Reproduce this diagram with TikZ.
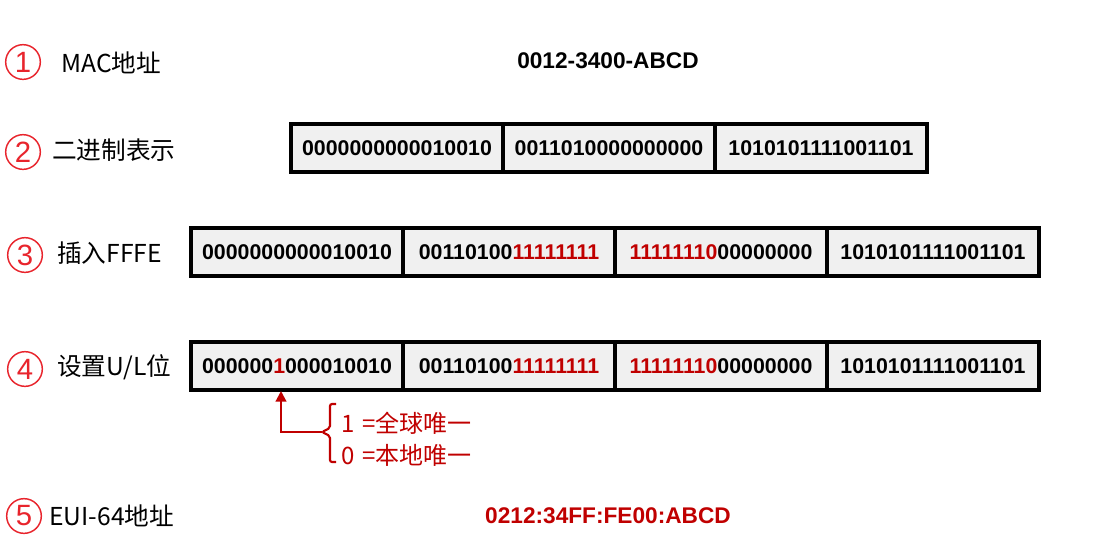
\documentclass[tikz,border=0pt]{standalone}
\usepackage{fontspec}
\setmainfont{Liberation Sans}
\newfontfamily\cjk{Noto Sans CJK SC}
\usetikzlibrary{arrows.meta}
\definecolor{cellgray}{RGB}{240,240,240}
\definecolor{bitred}{RGB}{192,0,0}
\definecolor{numred}{RGB}{232,36,44}
\newcommand{\rd}[1]{\textcolor{bitred}{#1}}
\tikzset{
  cell/.style={draw,line width=2.4pt,fill=cellgray,minimum width=159pt,
    minimum height=36pt,inner sep=0pt,font=\bfseries\fontsize{16}{19}\selectfont},
  stepnum/.style={circle,draw=numred,line width=1.1pt,text=numred,minimum size=26pt,
    inner sep=0pt,font=\fontsize{22}{22}\selectfont},
  steplabel/.style={anchor=west,inner sep=0pt,font=\cjk\fontsize{18.5}{20}\selectfont},
  addr/.style={inner sep=0pt,font=\bfseries\fontsize{17}{20}\selectfont},
  ulnote/.style={anchor=west,inner sep=0pt,text=bitred,font=\cjk\fontsize{18}{20}\selectfont}
}
\begin{document}
\begin{tikzpicture}[x=0.75pt,y=-0.75pt]
  \useasboundingbox (0,0) rectangle (1096,558);

  % step numbers and labels
  \node[stepnum] (n1) at (23,62) {1};
  \node[stepnum] (n2) at (23,152) {2};
  \node[stepnum] (n3) at (25,255) {3};
  \node[stepnum] (n4) at (25,369) {4};
  \node[stepnum] (n5) at (24,516) {5};
  \node[steplabel] (l1) at (61,63) {MAC地址};
  \node[steplabel] (l2) at (52,150) {二进制表示};
  \node[steplabel] (l3) at (57,253) {插入FFFE};
  \node[steplabel] (l4) at (57,367) {设置U/L位};
  \node[steplabel] (l5) at (49,516) {EUI-64地址};

  % mac and eui-64
  \node[addr] (mac) at (608,61) {0012-3400-ABCD};
  \node[addr,text=bitred] (eui) at (608,516) {0212:34FF:FE00:ABCD};

  %% binary form
  \foreach \bits [count=\i] in {0000000000010010,0011010000000000,1010101111001101}
    \node[cell] (b\i) at (185+212*\i,148) {\bits};

  %% fffe inserted
  \foreach \bits [count=\i] in {0000000000010010,00110100\rd{11111111},
      \rd{11111110}00000000,1010101111001101}
    \node[cell] (f\i) at (85+212*\i,252) {\bits};

  %% u/l bit set
  \foreach \bits [count=\i] in {000000\rd{1}000010010,00110100\rd{11111111},
      \rd{11111110}00000000,1010101111001101}
    \node[cell] (u\i) at (85+212*\i,366) {\bits};

  % the u/l note
  \coordinate (ulbit) at (281,391);
  \coordinate (nub) at (322,432);
  \draw[bitred,line width=1.6pt,-{Triangle[width=8pt,length=8pt]}] (nub) -| (ulbit);
  \draw[bitred,line width=1.6pt,rounded corners=1.5pt] (336,404) -- (330,404) -- (330,428)
    -- (nub) -- (330,436) -- (330,462) -- (336,462);
  \node[ulnote] (g1) at (341,423) {1\,\,=全球唯一};
  \node[ulnote] (g0) at (341,455) {0\,\,=本地唯一};
\end{tikzpicture}
\end{document}
